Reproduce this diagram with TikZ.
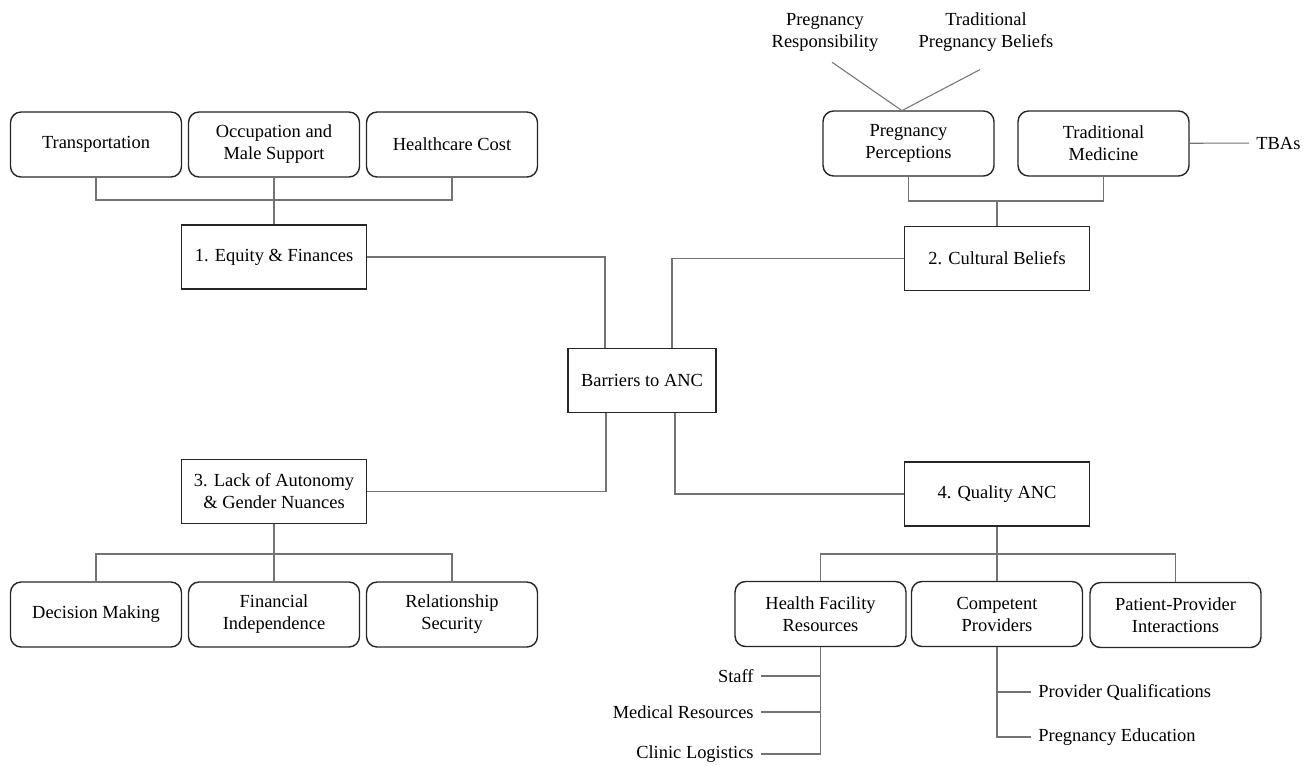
\documentclass[tikz,border=0pt]{standalone}
\usepackage{fontspec}
\setmainfont{Liberation Serif}

\begin{document}
\begin{tikzpicture}[x=0.02cm,y=-0.02cm]
		\tikzset{
			theme/.style={draw=black!85,line width=0.8pt,minimum width=3.7cm,minimum height=1.28cm,align=center,font=\fontsize{10.5}{12.5}\selectfont},
			subtheme/.style={theme,rounded corners=6pt,minimum width=3.42cm,minimum height=1.3cm},
			leaf/.style={align=center,inner xsep=4pt,font=\fontsize{10.5}{12.5}\selectfont},
			link/.style={draw=black!55,line width=0.6pt}
		}
		\useasboundingbox (0,0) rectangle (1308,765);
		\node[theme,minimum width=2.96cm] (bar) at (642,380.5) {Barriers to ANC};
		\node[theme] (equity) at (274,257) {1. Equity \& Finances};
		\node[theme] (cult) at (997,258.5) {2. Cultural Beliefs};
		\node[theme] (lack) at (274,491.5) {3. Lack of Autonomy\\\& Gender Nuances};
		\node[theme] (qual) at (997,494) {4. Quality ANC};
		\node[subtheme] (trans) at (96,144.5) {Transportation};
		\node[subtheme] (occ) at (274,144.5) {Occupation and\\Male Support};
		\node[subtheme] (cost) at (452,144.5) {Healthcare Cost};
		\node[subtheme] (dec) at (96,614.5) {Decision Making};
		\node[subtheme] (fin) at (274,614.5) {Financial\\Independence};
		\node[subtheme] (rel) at (452,614.5) {Relationship\\Security};
		\node[subtheme] (perc) at (908.5,143.5) {Pregnancy\\Perceptions};
		\node[subtheme] (tmed) at (1103.5,143.5) {Traditional\\Medicine};
		\node[subtheme] (hfr) at (820.5,614) {Health Facility\\Resources};
		\node[subtheme] (comp) at (997,614) {Competent\\Providers};
		\node[subtheme] (ppi) at (1175.5,615) {Patient-Provider\\Interactions};
		\node[leaf] (resp) at (825,32) {Pregnancy\\Responsibility};
		\node[leaf] (tpb) at (986,32) {Traditional\\Pregnancy Beliefs};
		\node[leaf,anchor=west] (tbas) at (1249,143) {TBAs};
		\node[leaf,anchor=east] (staff) at (761,676) {Staff};
		\node[leaf,anchor=east] (medres) at (761,712) {Medical Resources};
		\node[leaf,anchor=east] (clin) at (761,754) {Clinic Logistics};
		\node[leaf,anchor=west] (pq) at (1031,692) {Provider Qualifications};
		\node[leaf,anchor=west] (pe) at (1031,737) {Pregnancy Education};
		\coordinate (j1) at (274,200);
		\coordinate (j2) at (997,201);
		\coordinate (j3) at (274,554);
		\coordinate (j4) at (997,554);
		\draw[link] (trans) |- (j1) -| (cost);
		\draw[link] (occ) -- (equity);
		\draw[link] (perc) |- (j2) -| (tmed);
		\draw[link] (j2) -- (cult);
		\draw[link] ([xshift=0.14cm,yshift=-0.1cm]resp.south) -- ([xshift=-0.14cm]perc.north);
		\draw[link] ([xshift=-0.12cm,yshift=-0.24cm]tpb.south) -- ([xshift=-0.12cm]perc.north);
		\draw[link] (tmed) -- (tbas);
		\draw[link] (equity) -| ([xshift=-0.74cm]bar.north);
		\draw[link] (cult) -| ([xshift=0.6cm]bar.north);
		\draw[link] (lack) -| ([xshift=-0.72cm]bar.south);
		\draw[link] (qual) -| ([xshift=0.66cm]bar.south);
		\draw[link] (dec) |- (j3) -| (rel);
		\draw[link] (lack) -- (fin);
		\draw[link] (hfr) |- (j4) -| (ppi);
		\draw[link] (qual) -- (comp);
		\draw[link] (hfr) |- (staff);
		\draw[link] (hfr) |- (medres);
		\draw[link] (hfr) |- (clin);
		\draw[link] (comp) |- (pq);
		\draw[link] (comp) |- (pe);
	\end{tikzpicture}
\end{document}
